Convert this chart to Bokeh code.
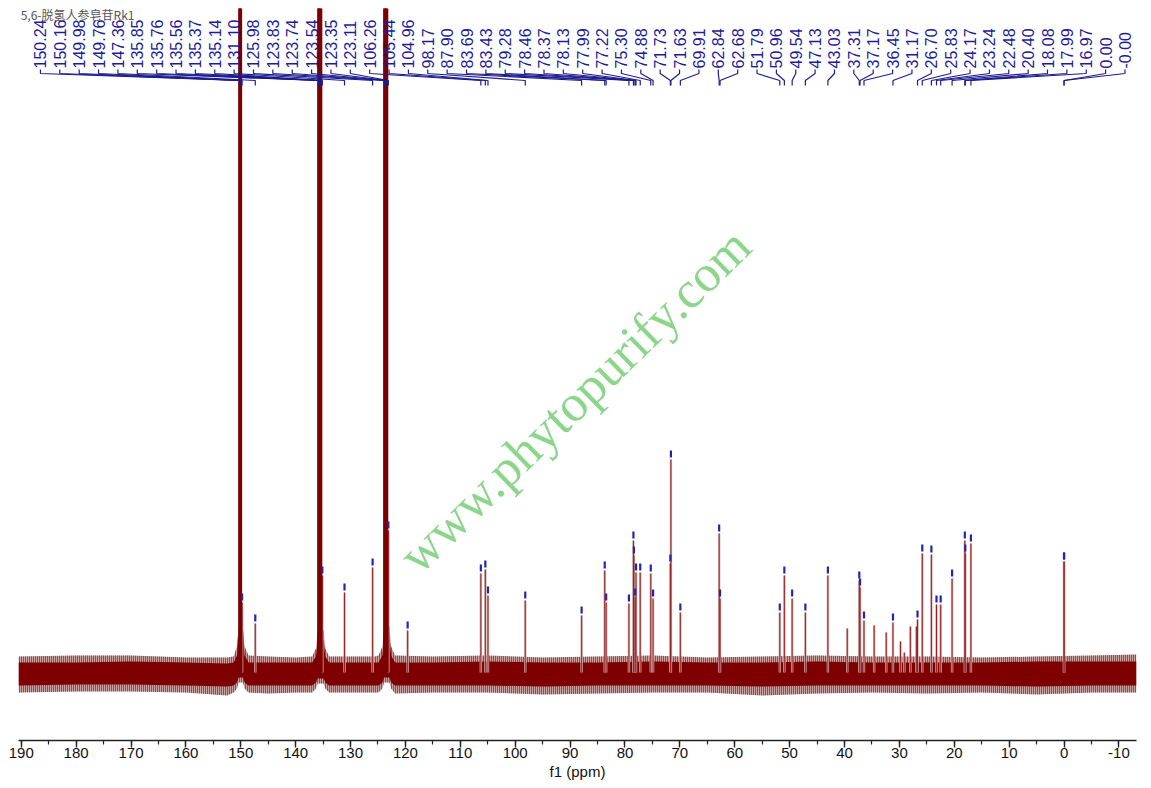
import numpy as np
from bokeh.plotting import figure
from bokeh.models import Range1d, FixedTicker, PrintfTickFormatter
from bokeh.core.properties import value
from bokeh.embed import file_html
from bokeh.resources import INLINE

# ---------------- data ----------------
title_text = "5,6-脱氢人参皂苷Rk1"
axis_title = "f1 (ppm)"
watermark = "www.phytopurify.com"

# picked / labelled peaks (ppm), in label order
label_ppm = [150.24, 150.16, 149.98, 149.76, 147.36,
             135.85, 135.76, 135.56, 135.37, 135.14,
             131.10, 125.98,
             123.83, 123.74, 123.54, 123.35, 123.11,
             106.26, 105.44, 104.96, 98.17, 87.90, 83.69, 83.43,
             79.28, 78.46, 78.37, 78.13, 77.99, 77.22, 75.30, 74.88,
             71.73, 71.63, 69.91, 62.84, 62.68,
             51.79, 50.96, 49.54, 47.13, 43.03, 37.31, 37.17, 36.45,
             31.17, 26.70, 25.83, 24.17, 23.24, 22.48, 20.40,
             18.08, 17.99, 16.97, 0.00, -0.00]
label_text = [f"{v:.2f}" for v in label_ppm]

# peak intensities (arbitrary units, baseline = 0); 3000 = off scale
peak_height = [3000, 3000, 3000, 70, 49,
               3000, 3000, 3000, 3000, 97,
               80, 105,
               3000, 3000, 3000, 3000, 142,
               99, 103, 77, 72, 57, 102, 70,
               69, 132, 117, 75, 100, 100, 99, 74,
               109, 213, 60, 139, 74,
               60, 97, 74, 60, 97, 92, 85, 52,
               50, 53, 119, 118, 68, 68, 94,
               132, 119, 129, 111, 111]

# extra peaks without labels
extra_ppm = [119.6, 39.5, 34.6, 32.4, 29.8, 29.1, 28.0, 26.9]
extra_height = [42, 44, 47, 40, 31, 20, 46, 46]
extra_picked = [True, False, False, False, False, False, False, False]

# baseline noise envelope
noise_ppm = [190.5, 180, 170, 160, 152.5, 151.3, 150.7, 150.4, 149.6, 149.3, 148.6, 145, 140,
             137.0, 136.3, 136.0, 134.9, 134.6, 133.9, 130, 125.5, 124.9, 124.2, 123.9, 122.9, 122.6, 121.9,
             115, 105, 95, 85, 75, 65, 55, 45, 35, 25, 15, 5, -5, -13.2]
outer_hi = [16, 17, 17, 15, 15, 16, 26, 45, 45, 26, 17, 16, 15,
            16, 24, 42, 42, 24, 16, 16, 16, 17, 26, 46, 46, 26, 17,
            16, 17, 15, 16, 17, 15, 16, 17, 16, 16, 15, 16, 17, 18]
core_hi = [10, 10, 11, 10, 9, 10, 17, 36, 36, 17, 10, 10, 10,
           10, 16, 32, 32, 16, 10, 10, 10, 10, 17, 36, 36, 17, 10,
           10, 11, 10, 10, 11, 10, 10, 11, 10, 10, 10, 11, 11, 11]
core_lo = [-13, -12, -12, -13, -14, -13, -10, -5, -5, -10, -13, -13, -13,
           -13, -10, -6, -6, -10, -13, -13, -13, -13, -10, -5, -5, -10, -13,
           -13, -13, -14, -13, -13, -13, -14, -13, -13, -13, -13, -14, -13, -13]
outer_lo = [-20, -19, -19, -20, -23, -20, -16, -10, -10, -16, -20, -21, -20,
            -20, -16, -11, -11, -16, -20, -20, -20, -20, -16, -10, -10, -16, -21,
            -20, -20, -22, -21, -20, -20, -23, -21, -20, -21, -20, -22, -20, -20]

x_ticks = list(range(-10, 191, 10))
x_minor = list(range(-15, 196, 5))

# ---------------- figure ----------------
p = figure(width=1151, height=784,
           x_range=Range1d(190.5, -13.2), y_range=Range1d(-68, 664),
           y_axis_location=None, toolbar_location=None, output_backend="svg",
           min_border_left=18, min_border_right=15, min_border_top=8,
           min_border_bottom=44)
p.outline_line_color = None
p.xgrid.visible = False
p.ygrid.visible = False
p.background_fill_color = "white"

ax = p.xaxis[0]
ax.ticker = FixedTicker(ticks=x_ticks, minor_ticks=x_minor)
ax.formatter = PrintfTickFormatter(format="%d")
ax.axis_label = axis_title
ax.axis_label_text_font = "Liberation Sans"
ax.axis_label_text_font_style = "normal"
ax.axis_label_text_font_size = "15px"
ax.axis_label_text_color = "#111111"
ax.axis_label_standoff = 2
ax.major_label_text_font = "Liberation Sans"
ax.major_label_text_font_size = "15px"
ax.major_label_text_color = "#111111"
ax.major_label_standoff = 0
ax.axis_line_color = "#222222"
ax.axis_line_width = 1.6
ax.major_tick_line_color = "#222222"
ax.minor_tick_line_color = "#222222"
ax.major_tick_line_width = 1.4
ax.minor_tick_line_width = 1.2
ax.major_tick_in = 0
ax.major_tick_out = 7
ax.minor_tick_in = 0
ax.minor_tick_out = 4

# noise band
p.varea(x=noise_ppm, y1=outer_lo, y2=outer_hi, fill_color="#c9a2a2",
        hatch_pattern="vertical_line", hatch_color="#860606",
        hatch_scale=2, hatch_weight=1.2)
p.varea(x=noise_ppm, y1=core_lo, y2=core_hi, fill_color="#7e0000")

# peaks
all_ppm = label_ppm + extra_ppm
all_h = peak_height + extra_height
big = [h >= 1000 for h in all_h]
bx = [x for x, b in zip(all_ppm, big) if b]
bh = [h for h, b in zip(all_h, big) if b]
sx = [x for x, b in zip(all_ppm, big) if not b]
sh = [h for h, b in zip(all_h, big) if not b]
p.segment(x0=sx, y0=[0] * len(sx), x1=sx, y1=sh, line_color="#d2adad", line_width=2.4)
p.segment(x0=sx, y0=[0] * len(sx), x1=sx, y1=sh, line_color="#8e1414", line_width=0.9)
p.segment(x0=bx, y0=[0] * len(bx), x1=bx, y1=bh, line_color="#7c0000", line_width=2.5)

# peak-pick markers
mx = list(label_ppm) + [x for x, pk in zip(extra_ppm, extra_picked) if pk]
mh = list(peak_height) + [h for h, pk in zip(extra_height, extra_picked) if pk]
p.segment(x0=mx, y0=[h + 2 for h in mh], x1=mx, y1=[h + 9 for h in mh],
          line_color="#2424b4", line_width=2.2)

# labels with connectors
n = len(label_ppm)
lab_x = list(np.linspace(186.5, -11.1, n))
xs = [[lx, lx, px, px] for lx, px in zip(lab_x, label_ppm)]
ys = [[603, 599, 592, 587] for _ in range(n)]
p.multi_line(xs=xs, ys=ys, line_color="#1c1c90", line_width=1.2)
p.text(x=lab_x, y=[604] * n, text=label_text, angle=np.pi / 2,
       text_align="left", text_baseline="middle",
       text_font=value("Liberation Sans"), text_font_size="16px",
       text_color="#1c1c9c")

# title
p.text(x=[190.1], y=[658], text=[title_text], text_align="left",
       text_baseline="middle", text_font=value("Noto Sans CJK SC"),
       text_font_size="12px", text_color="#555555")

# watermark
p.text(x=[119.6], y=[109], text=[watermark], angle=np.deg2rad(44.3),
       text_align="left", text_baseline="alphabetic",
       text_font=value("Liberation Serif"), text_font_size="52px",
       text_color="#7fd27f", text_alpha=0.9)

open("out.html", "w").write(file_html(p, INLINE))
